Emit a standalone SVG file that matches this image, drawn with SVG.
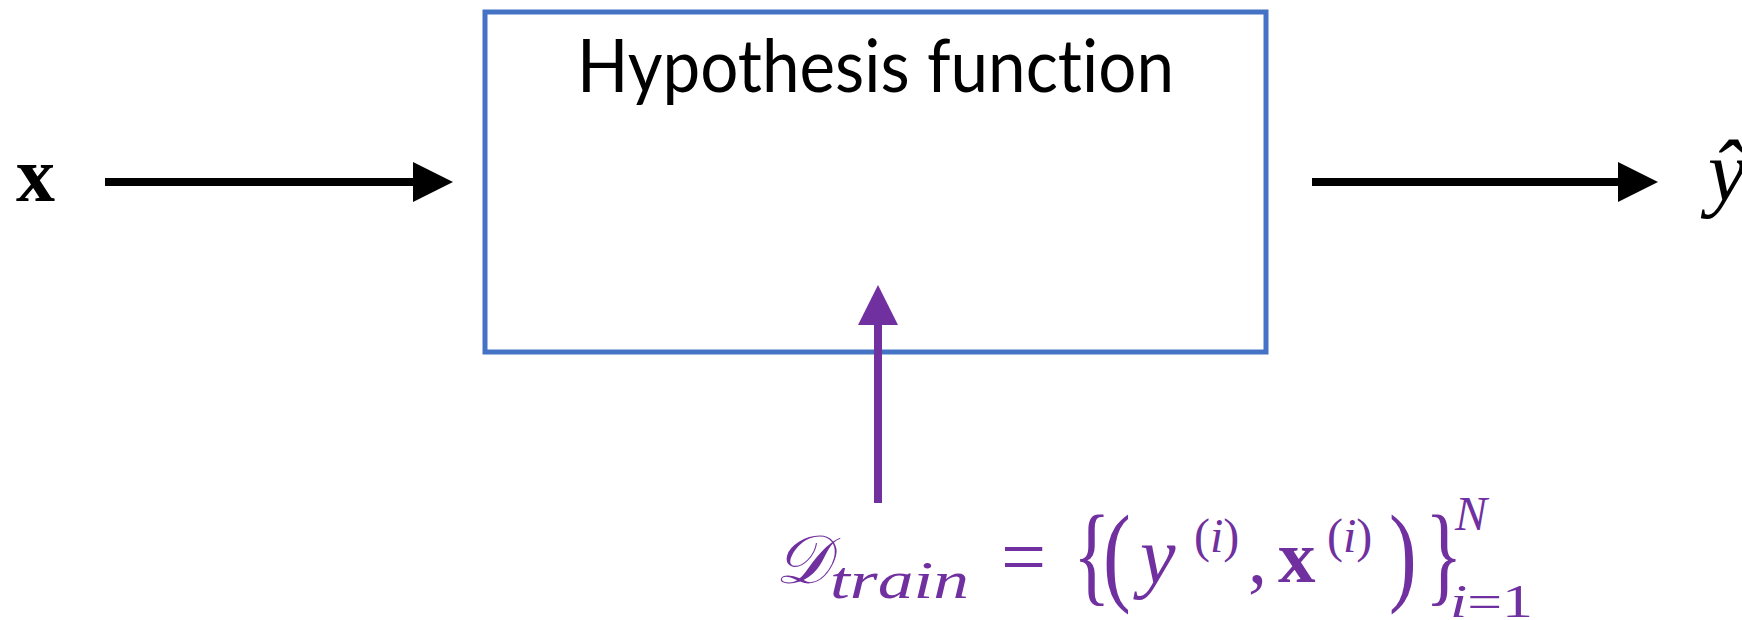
<svg xmlns="http://www.w3.org/2000/svg" width="1742" height="620" viewBox="0 0 1742 620">
<style>
.math{font-family:"Liberation Serif","DejaVu Serif",serif;}
.it{font-style:italic;}
.purple{fill:#7030A0;}
.lbl{font-family:Lato,"Open Sans","Liberation Sans",sans-serif;font-size:74px;fill:#000;font-variant-ligatures:none;font-feature-settings:"liga" 0;}
</style>
<defs>
<marker id="ahBlack" markerUnits="userSpaceOnUse" markerWidth="40" markerHeight="40" refX="0" refY="20" orient="auto" viewBox="0 0 40 40"><path d="M0,0 L40,20 L0,40 Z" fill="#000"/></marker>
<marker id="ahPurple" markerUnits="userSpaceOnUse" markerWidth="40" markerHeight="40" refX="0" refY="20" orient="auto" viewBox="0 0 40 40"><path d="M0,0 L40,20 L0,40 Z" fill="#7030A0"/></marker>
</defs>
<rect width="1742" height="620" fill="#fff"/>
<g id="hypothesis">
<rect x="485" y="12" width="781" height="340" fill="none" stroke="#4472C4" stroke-width="5"/>
<text class="lbl" x="875.5" y="92" text-anchor="middle" textLength="597" lengthAdjust="spacingAndGlyphs">Hypothesis function</text>
</g>
<g id="input">
<text class="math" x="16" y="201" font-size="78" font-weight="bold">x</text>
</g>
<g id="output">
<text class="math it" x="1708" y="200" font-size="86">ŷ</text>
</g>
<g id="dataset">
<text class="math it purple" x="775" y="583" font-size="68" textLength="54" lengthAdjust="spacingAndGlyphs">𝒟</text>
<text class="math it purple" x="830" y="598" font-size="52" textLength="139" lengthAdjust="spacingAndGlyphs">train</text>
<text class="math purple" x="1001" y="584" font-size="80">=</text>
<text class="math purple" transform="translate(1073,591) scale(0.8,1.12)" font-size="98">{</text>
<text class="math purple" transform="translate(1103,591) scale(0.85,1.12)" font-size="98">(</text>
<text class="math it purple" x="1140" y="583" font-size="80">y</text>
<text class="math purple" x="1194" y="552" font-size="48">(<tspan class="it">i</tspan>)</text>
<text class="math purple" x="1248" y="583" font-size="76">,</text>
<text class="math purple" x="1278" y="582" font-size="75" font-weight="bold">x</text>
<text class="math purple" x="1327" y="552" font-size="48">(<tspan class="it">i</tspan>)</text>
<text class="math purple" transform="translate(1389,591) scale(0.85,1.12)" font-size="98">)</text>
<text class="math purple" transform="translate(1425,591) scale(0.8,1.12)" font-size="98">}</text>
<text class="math it purple" x="1455" y="530" font-size="48">N</text>
<text class="math purple" x="1450" y="617" font-size="46" textLength="83" lengthAdjust="spacingAndGlyphs"><tspan class="it">i</tspan>=1</text>
</g>
<g id="connectors">
<line x1="105" y1="182" x2="413" y2="182" stroke="#000" stroke-width="8" marker-end="url(#ahBlack)"/>
<line x1="1312" y1="182" x2="1618" y2="182" stroke="#000" stroke-width="8" marker-end="url(#ahBlack)"/>
<line x1="878" y1="503" x2="878" y2="325" stroke="#7030A0" stroke-width="8" marker-end="url(#ahPurple)"/>
</g>
</svg>
